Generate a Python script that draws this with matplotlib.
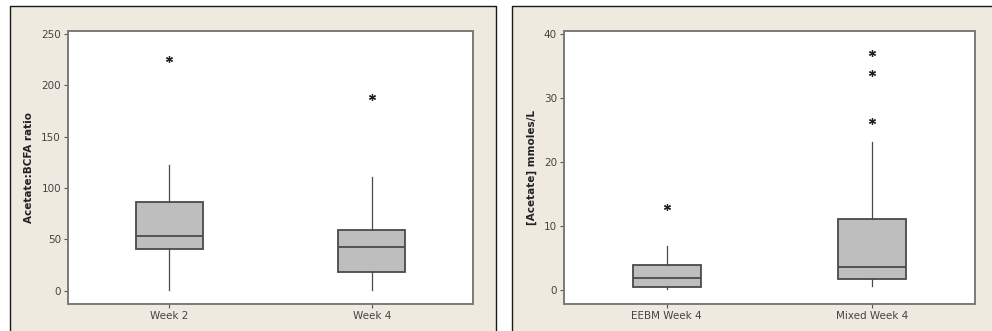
#!/usr/bin/env python3
"""Two Minitab-style boxplots: acetate:BCFA ratio and acetate concentration."""

import matplotlib

matplotlib.use("Agg")
import matplotlib.pyplot as plt
from matplotlib.patches import Rectangle
from matplotlib.lines import Line2D

# left panel: Acetate:BCFA ratio
ratio_groups = ["Week 2", "Week 4"]
ratio_whislo = [0.5, 0.5]
ratio_q1 = [40.3, 18.5]
ratio_med = [53.6, 42.8]
ratio_q3 = [86.7, 59.0]
ratio_whishi = [123.0, 111.0]
ratio_fliers = [[226.0], [189.0]]
ratio_ticks = [0, 50, 100, 150, 200, 250]

# right panel: [Acetate] mmoles/L
acet_groups = ["EEBM Week 4", "Mixed Week 4"]
acet_whislo = [0.1, 0.6]
acet_q1 = [0.42, 1.67]
acet_med = [1.8, 3.65]
acet_q3 = [3.9, 11.15]
acet_whishi = [6.8, 23.1]
acet_fliers = [[12.9], [26.5, 34.0, 37.1]]
acet_ticks = [0, 10, 20, 30, 40]

BEIGE = "#EEEAE0"
BOX_FILL = "#BEBEBE"
EDGE = "#4A4A4A"
TICK_COLOR = "#444444"


def make_stats(labels, lo, q1, med, q3, hi, fliers):
    return [
        dict(label=l, whislo=a, q1=b, med=c, q3=d, whishi=e, fliers=f)
        for l, a, b, c, d, e, f in zip(labels, lo, q1, med, q3, hi, fliers)
    ]


def draw_box(ax, stats, ylim, ticks, ylabel):
    ax.bxp(
        stats,
        positions=[1, 2],
        widths=0.33,
        patch_artist=True,
        showcaps=False,
        boxprops=dict(facecolor=BOX_FILL, edgecolor=EDGE, linewidth=1.3),
        medianprops=dict(color=EDGE, linewidth=1.3),
        whiskerprops=dict(color=EDGE, linewidth=0.9),
        flierprops=dict(marker=(6, 2, 0), markersize=5, markeredgecolor="#222222",
                        markeredgewidth=0.9, linestyle="none"),
    )
    ax.set_xlim(0.5, 2.5)
    ax.set_ylim(*ylim)
    ax.set_yticks(ticks)
    ax.set_facecolor("white")
    for sp in ax.spines.values():
        sp.set_color("#7A7A7A")
        sp.set_linewidth(1.4)
    ax.tick_params(axis="both", direction="out", length=3, width=0.8,
                   color="#555555", labelcolor=TICK_COLOR, labelsize=7.5, pad=2)
    ax.set_ylabel(ylabel, fontsize=7.5, fontweight="bold", color="#222222",
                  labelpad=5)


def main():
    fig = plt.figure(figsize=(9.92, 3.31), dpi=100)
    fig.patch.set_facecolor("white")
    W, H = 992.0, 331.0

    # beige panel backgrounds with dark borders, kept behind the axes
    for x0, w in [(10, 486), (512, 480)]:
        fig.patches.append(Rectangle((x0 / W, 0), w / W, 325 / H,
                                     transform=fig.transFigure, facecolor=BEIGE,
                                     edgecolor="none", zorder=-2))
    for xs, ys in [
        ([10 / W, 10 / W, 496 / W, 496 / W], [0, 325 / H, 325 / H, 0]),
        ([512 / W, 512 / W, 1.0], [0, 325 / H, 325 / H]),
    ]:
        fig.lines.append(Line2D(xs, ys, transform=fig.transFigure, color="#1A1A1A",
                                linewidth=1.0, zorder=-1))

    ax1 = fig.add_axes([68 / W, 27 / H, 405 / W, 273 / H])
    ax2 = fig.add_axes([564 / W, 27 / H, 411 / W, 273 / H])

    draw_box(ax1, make_stats(ratio_groups, ratio_whislo, ratio_q1, ratio_med,
                             ratio_q3, ratio_whishi, ratio_fliers),
             (-12.8, 253), ratio_ticks, "Acetate:BCFA ratio")
    draw_box(ax2, make_stats(acet_groups, acet_whislo, acet_q1, acet_med,
                             acet_q3, acet_whishi, acet_fliers),
             (-2.2, 40.5), acet_ticks, "[Acetate] mmoles/L")

    fig.savefig("out.png", dpi=100, facecolor=fig.get_facecolor())


if __name__ == "__main__":
    main()
